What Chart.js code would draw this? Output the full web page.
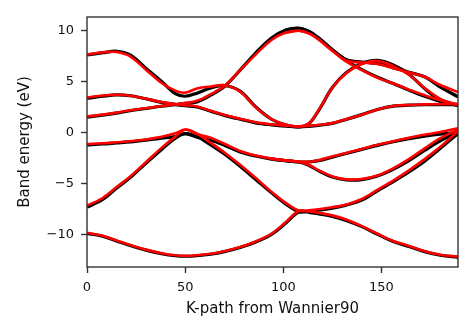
<!DOCTYPE html>
<html>
<head>
<meta charset="utf-8">
<script src="https://cdn.jsdelivr.net/npm/chart.js@4.4.0/dist/chart.umd.min.js"></script>
<style>
  html, body { margin: 0; padding: 0; background: #fff; }
</style>
</head>
<body>
<canvas id="bands" width="476" height="336"></canvas>
<script>
// k-path sample positions (x axis)
var kpath = [0, 8, 15, 22, 30, 38, 45, 50, 56, 63, 70, 78, 86, 94, 101, 108, 113, 118, 125, 132, 140, 148, 156, 164, 172, 180, 189];

// Wannier90 bands (red)
var wan1 = [7.62, 7.85, 7.88, 7.45, 6.15, 4.85, 4.1, 3.9, 4.3, 4.5, 4.62, 4.0, 2.45, 1.3, 0.78, 0.6, 0.9, 2.2, 4.4, 5.8, 6.7, 7.0, 6.5, 5.65, 4.35, 3.3, 2.7];
var wan2 = [3.43, 3.62, 3.7, 3.6, 3.3, 2.98, 2.78, 2.67, 2.55, 2.12, 1.72, 1.35, 1.0, 0.8, 0.68, 0.6, 0.65, 0.75, 0.92, 1.3, 1.75, 2.25, 2.6, 2.7, 2.75, 2.78, 2.8];
var wan3 = [1.57, 1.75, 1.95, 2.18, 2.38, 2.6, 2.75, 2.88, 3.1, 3.75, 4.55, 6.1, 7.65, 9.05, 9.75, 9.95, 9.7, 9.1, 8.0, 6.95, 6.1, 5.35, 4.8, 4.2, 3.65, 3.15, 2.7];
var wan4 = [null, null, null, null, null, null, null, null, null, null, null, null, null, null, 9.75, 9.95, 9.7, 9.1, 8.0, 7.05, 6.85, 6.7, 6.3, 5.88, 5.45, 4.65, 3.95];
var wan5 = [-1.12, -1.05, -0.95, -0.85, -0.68, -0.42, -0.08, 0.3, -0.15, -0.5, -1.1, -1.8, -2.25, -2.55, -2.72, -2.85, -2.85, -2.7, -2.35, -2.0, -1.6, -1.2, -0.85, -0.5, -0.22, 0.05, 0.42];
var wan6 = [null, null, null, null, null, null, null, null, null, null, null, null, null, -2.55, -2.72, -2.85, -3.15, -3.7, -4.3, -4.58, -4.55, -4.2, -3.5, -2.6, -1.55, -0.55, 0.3];
var wan7 = [-7.15, -6.4, -5.35, -4.3, -2.9, -1.5, -0.4, 0.28, -0.1, -1.0, -1.95, -3.15, -4.45, -5.8, -6.85, -7.65, -7.6, -7.5, -7.3, -7.05, -6.5, -5.6, -4.7, -3.7, -2.6, -1.4, 0.15];
var wan8 = [-9.8, -10.1, -10.55, -11.0, -11.45, -11.8, -12.0, -12.05, -12.0, -11.85, -11.6, -11.2, -10.65, -9.9, -8.8, -7.65, -7.72, -7.85, -8.1, -8.5, -9.15, -9.9, -10.6, -11.1, -11.6, -11.95, -12.15];

// DFT bands (black)
var dft1 = [7.6, 7.8, 7.95, 7.6, 6.3, 5.0, 3.8, 3.55, 3.85, 4.35, 4.6, 4.05, 2.5, 1.3, 0.75, 0.55, 0.85, 2.15, 4.4, 5.85, 6.75, 7.05, 6.6, 5.7, 4.3, 3.2, 2.65];
var dft2 = [3.35, 3.55, 3.68, 3.6, 3.3, 2.95, 2.75, 2.62, 2.5, 2.08, 1.68, 1.3, 0.95, 0.75, 0.62, 0.55, 0.6, 0.7, 0.9, 1.28, 1.75, 2.25, 2.58, 2.68, 2.72, 2.72, 2.72];
var dft3 = [1.5, 1.7, 1.9, 2.13, 2.35, 2.57, 2.72, 2.85, 3.0, 3.65, 4.5, 6.1, 7.8, 9.25, 10.0, 10.2, 9.9, 9.25, 8.1, 7.05, 6.15, 5.4, 4.8, 4.15, 3.55, 3.05, 2.65];
var dft4 = [null, null, null, null, null, null, null, null, null, null, null, null, null, null, 10.0, 10.2, 9.9, 9.25, 8.1, 7.15, 6.9, 6.75, 6.35, 5.9, 5.45, 4.45, 3.5];
var dft5 = [-1.2, -1.12, -1.02, -0.92, -0.75, -0.55, -0.4, -0.1, -0.45, -0.75, -1.25, -1.9, -2.3, -2.6, -2.75, -2.88, -2.88, -2.75, -2.4, -2.05, -1.65, -1.25, -0.9, -0.6, -0.35, -0.15, 0.0];
var dft6 = [null, null, null, null, null, null, null, null, null, null, null, null, null, -2.6, -2.75, -2.88, -3.2, -3.75, -4.35, -4.62, -4.6, -4.25, -3.6, -2.75, -1.75, -0.8, -0.05];
var dft7 = [-7.3, -6.55, -5.45, -4.4, -3.0, -1.65, -0.55, -0.1, -0.4, -1.2, -2.1, -3.3, -4.6, -5.9, -6.95, -7.75, -7.7, -7.6, -7.4, -7.1, -6.6, -5.7, -4.8, -3.85, -2.8, -1.55, -0.1];
var dft8 = [-9.85, -10.15, -10.6, -11.05, -11.5, -11.85, -12.05, -12.1, -12.05, -11.9, -11.65, -11.25, -10.7, -9.95, -8.9, -7.75, -7.8, -7.95, -8.2, -8.6, -9.2, -9.95, -10.65, -11.15, -11.65, -12.0, -12.2];

var wannierBands = [wan1, wan2, wan3, wan4, wan5, wan6, wan7, wan8];
var dftBands = [dft1, dft2, dft3, dft4, dft5, dft6, dft7, dft8];

var yTicks = [-10, -5, 0, 5, 10];
var xTicks = [0, 50, 100, 150];

window.addEventListener("load", function() {
    init();
});

function init() {
    var datasets = [];
    dftBands.forEach(function(b) {
        datasets.push(bandDataset(b, '#000000', 3.2, 1));
    });
    wannierBands.forEach(function(b) {
        datasets.push(bandDataset(b, '#ff0000', 2.6, 0));
    });
    renderChart(datasets);
}

function toPoints(values) {
    var pts = [];
    for (var i = 0; i < kpath.length; i++) {
        if (values[i] !== null) pts.push({x: kpath[i], y: values[i]});
    }
    return pts;
}

function bandDataset(values, color, width, order) {
    return {
        data: toPoints(values),
        borderColor: color,
        borderWidth: width,
        pointRadius: 0,
        tension: 0.35,
        fill: false,
        order: order
    };
}

// matplotlib-like box around the plot area
var frame = {
    id: 'frame',
    afterDatasetsDraw: function(chart) {
        var a = chart.chartArea;
        var ctx = chart.ctx;
        ctx.save();
        ctx.strokeStyle = '#333333';
        ctx.lineWidth = 1.4;
        ctx.strokeRect(a.left, a.top, a.right - a.left, a.bottom - a.top);
        ctx.restore();
    }
};

function minusLabel(v) {
    return v < 0 ? '\u2212' + Math.abs(v) : String(v);
}

function renderChart(datasets) {
    var ctx = document.getElementById('bands').getContext('2d');
    var tickFont = {family: 'DejaVu Sans', size: 13};
    var titleFont = {family: 'DejaVu Sans', size: 15};
    new Chart(ctx, {
        type: 'line',
        data: {datasets: datasets},
        plugins: [frame],
        options: {
            responsive: false,
            animation: false,
            layout: {padding: {left: 0, right: 18, top: 17, bottom: 0}},
            plugins: {legend: {display: false}, tooltip: {enabled: false}},
            scales: {
                x: {
                    type: 'linear',
                    min: 0,
                    max: 189,
                    afterBuildTicks: function(s) { s.ticks = xTicks.map(function(v) { return {value: v}; }); },
                    afterFit: function(s) { s.height = 69; },
                    ticks: {padding: 7, color: '#111', font: tickFont, maxRotation: 0},
                    grid: {drawOnChartArea: false, drawTicks: true, tickLength: 6, tickWidth: 1.4, tickColor: '#333'},
                    border: {display: false},
                    title: {display: true, text: 'K-path from Wannier90', color: '#111', font: titleFont, padding: {top: 0, bottom: 18}}
                },
                y: {
                    type: 'linear',
                    min: -13.15,
                    max: 11.3,
                    afterBuildTicks: function(s) { s.ticks = yTicks.map(function(v) { return {value: v}; }); },
                    afterFit: function(s) { s.width = 87; },
                    ticks: {padding: 7, color: '#111', font: tickFont, callback: minusLabel},
                    grid: {drawOnChartArea: false, drawTicks: true, tickLength: 6, tickWidth: 1.4, tickColor: '#333'},
                    border: {display: false},
                    title: {display: true, text: 'Band energy (eV)', color: '#111', font: titleFont, padding: {top: 16, bottom: 0}}
                }
            }
        }
    });
}
</script>
</body>
</html>
